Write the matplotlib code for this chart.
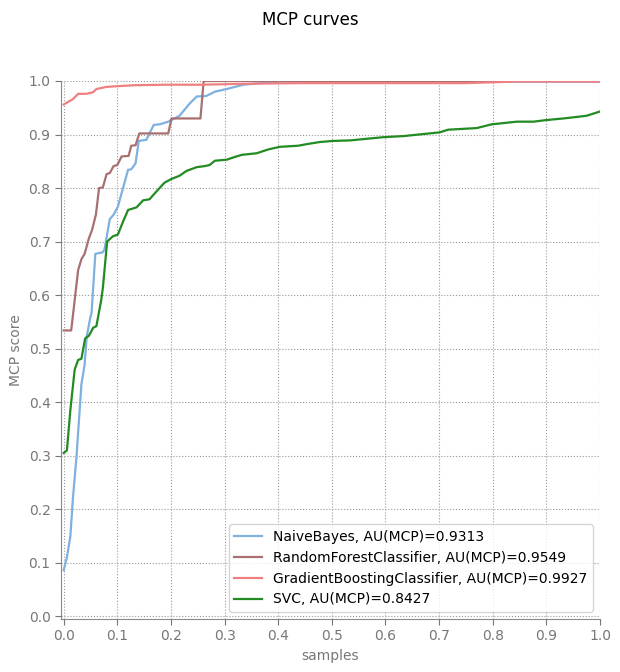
import matplotlib
matplotlib.use("Agg")
import matplotlib.pyplot as plt

# curve points (x = fraction of samples, y = MCP score)
nb_x = [0.0, 0.006, 0.0125, 0.017, 0.024, 0.033, 0.039, 0.043, 0.05, 0.052, 0.059, 0.073,
        0.076, 0.086, 0.093, 0.101, 0.12, 0.126, 0.134, 0.14, 0.154, 0.168, 0.179, 0.195,
        0.216, 0.235, 0.248, 0.266, 0.282, 0.304, 0.335, 0.378, 0.41, 0.6, 0.8, 1.0]
nb_y = [0.086, 0.11, 0.15, 0.218, 0.30, 0.433, 0.47, 0.523, 0.56, 0.567, 0.677, 0.68,
        0.685, 0.742, 0.75, 0.765, 0.834, 0.835, 0.846, 0.888, 0.89, 0.918, 0.919, 0.924,
        0.935, 0.958, 0.971, 0.972, 0.98, 0.985, 0.993, 0.997, 0.999, 0.999, 0.999, 0.999]

rf_x = [0.0, 0.014, 0.027, 0.033, 0.039, 0.047, 0.053, 0.06, 0.066, 0.073, 0.08, 0.086,
        0.093, 0.1, 0.108, 0.121, 0.126, 0.134, 0.141, 0.195, 0.201, 0.255, 0.261, 1.0]
rf_y = [0.534, 0.534, 0.647, 0.667, 0.677, 0.706, 0.722, 0.75, 0.80, 0.801, 0.826, 0.828,
        0.841, 0.843, 0.859, 0.86, 0.879, 0.88, 0.902, 0.902, 0.93, 0.93, 1.0, 1.0]

gb_x = [0.0, 0.017, 0.027, 0.042, 0.055, 0.061, 0.08, 0.129, 0.19, 0.254, 0.35, 0.45,
        0.6, 0.75, 0.845, 0.9, 1.0]
gb_y = [0.956, 0.966, 0.976, 0.976, 0.979, 0.985, 0.989, 0.992, 0.993, 0.993, 0.995, 0.996,
        0.996, 0.996, 0.999, 0.999, 0.999]

svc_x = [0.0, 0.006, 0.0125, 0.0205, 0.027, 0.033, 0.04, 0.047, 0.055, 0.061, 0.07, 0.073,
         0.081, 0.092, 0.101, 0.111, 0.12, 0.136, 0.148, 0.16, 0.176, 0.188, 0.201, 0.216,
         0.229, 0.248, 0.263, 0.272, 0.282, 0.304, 0.319, 0.332, 0.36, 0.381, 0.403, 0.437,
         0.453, 0.478, 0.502, 0.534, 0.596, 0.633, 0.701, 0.717, 0.77, 0.798, 0.845, 0.876,
         0.9, 0.932, 0.975, 1.0]
svc_y = [0.305, 0.31, 0.386, 0.461, 0.479, 0.481, 0.519, 0.524, 0.539, 0.542, 0.591, 0.613,
         0.70, 0.71, 0.713, 0.738, 0.759, 0.764, 0.777, 0.779, 0.797, 0.81, 0.817, 0.823,
         0.832, 0.839, 0.841, 0.843, 0.851, 0.853, 0.858, 0.862, 0.865, 0.872, 0.877, 0.879,
         0.882, 0.886, 0.888, 0.889, 0.895, 0.897, 0.904, 0.909, 0.912, 0.919, 0.924, 0.924,
         0.927, 0.93, 0.935, 0.943]

labels = ["NaiveBayes, AU(MCP)=0.9313",
          "RandomForestClassifier, AU(MCP)=0.9549",
          "GradientBoostingClassifier, AU(MCP)=0.9927",
          "SVC, AU(MCP)=0.8427"]
ticks = [0.0, 0.1, 0.2, 0.3, 0.4, 0.5, 0.6, 0.7, 0.8, 0.9, 1.0]

fig = plt.figure(figsize=(6.2, 6.72), dpi=100)
ax = fig.add_axes([0.0984, 0.0789, 0.8693, 0.8006])

ax.plot(nb_x, nb_y, color="#7eb0e0", lw=1.6, label=labels[0])
ax.plot(rf_x, rf_y, color="#a87070", lw=1.6, label=labels[1])
ax.plot(gb_x, gb_y, color="#f08080", lw=1.6, label=labels[2])
ax.plot(svc_x, svc_y, color="#228b22", lw=1.6, label=labels[3])

ax.set_xlim(-0.005, 1.0)
ax.set_ylim(-0.005, 1.0)
ax.set_xticks(ticks)
ax.set_yticks(ticks)
ax.grid(True, linestyle=":", color="#999999", lw=0.8)

for s in ["top", "right"]:
    ax.spines[s].set_visible(False)
for s in ["left", "bottom"]:
    ax.spines[s].set_color("#888888")
ax.tick_params(colors="#777777", labelsize=10, direction="out", length=4)

ax.set_xlabel("samples", color="#777777", fontsize=10)
ax.set_ylabel("MCP score", color="#777777", fontsize=10)
fig.suptitle("MCP curves", fontsize=12, y=0.983)
ax.legend(loc="lower right", fontsize=10)

fig.savefig("out.png", dpi=100)
